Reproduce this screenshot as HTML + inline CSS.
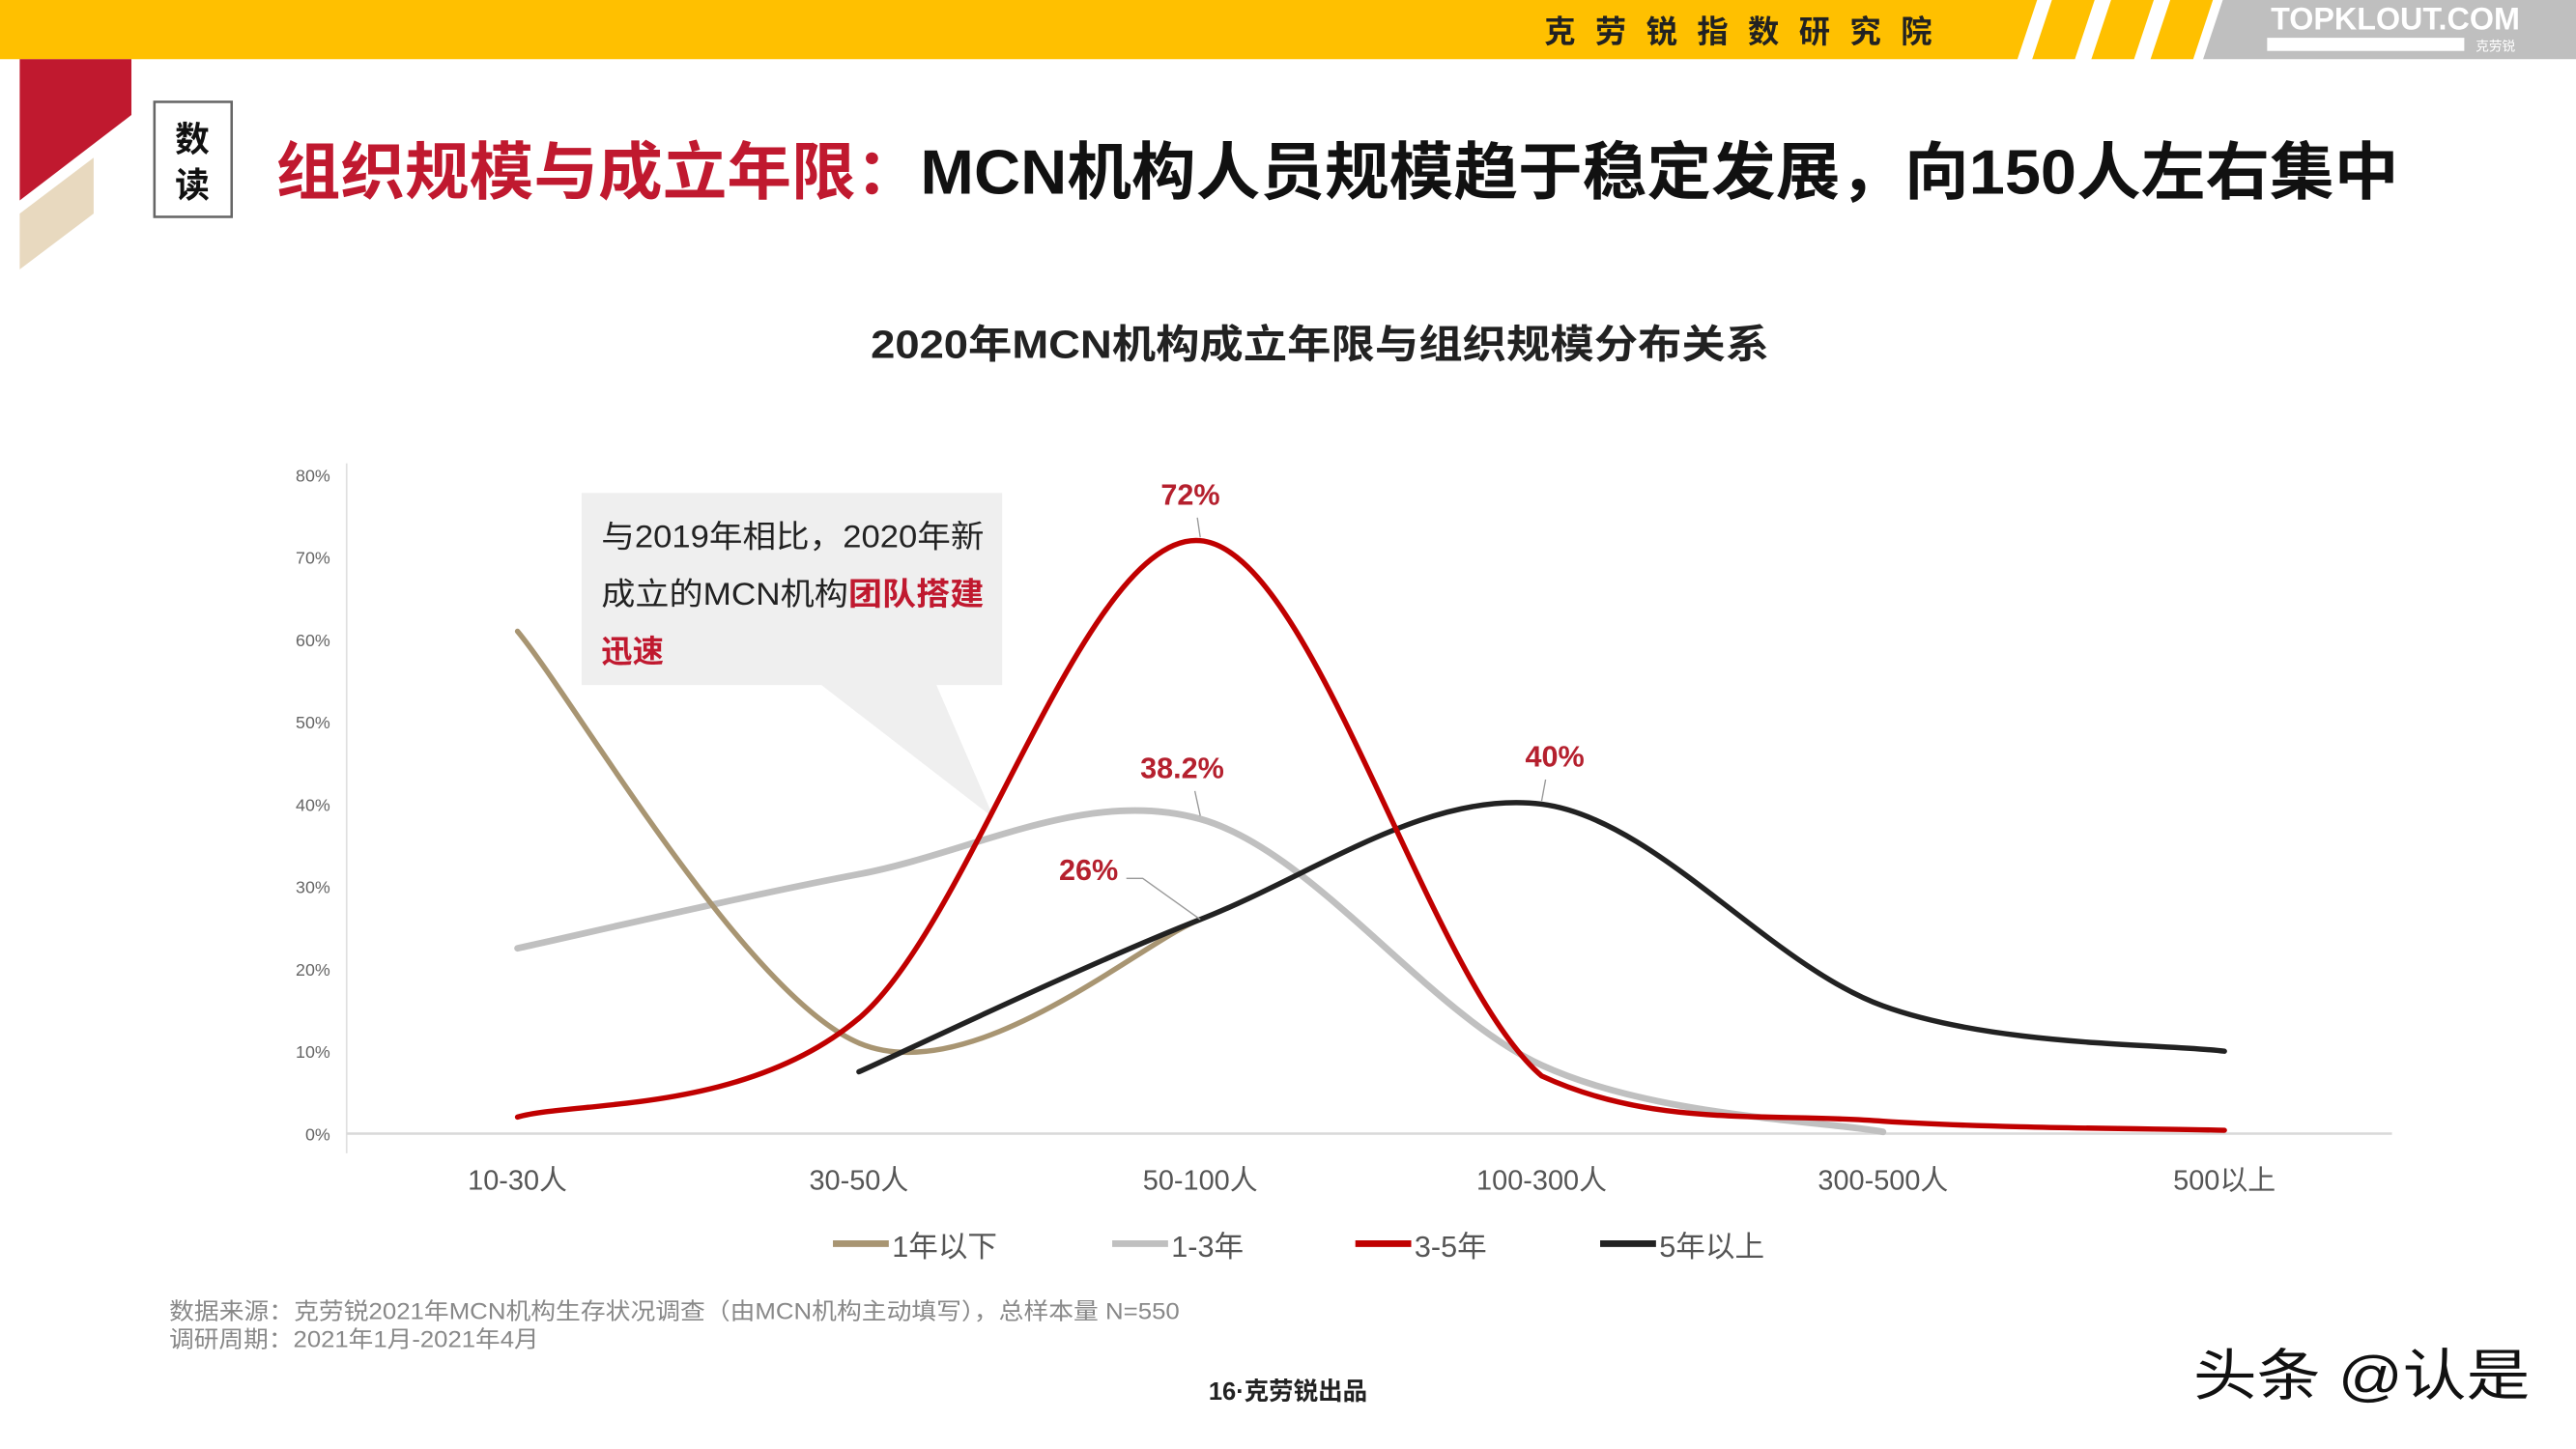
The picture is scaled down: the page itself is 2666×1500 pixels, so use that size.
<!DOCTYPE html>
<html><head><meta charset="utf-8">
<style>
html,body{margin:0;padding:0;background:#fff;}
svg{display:block;}
text{font-family:"Liberation Sans","Noto Sans CJK SC",sans-serif;}
</style></head>
<body>
<svg id="chart" width="2666" height="1500" viewBox="0 0 1568 882" preserveAspectRatio="none" xmlns="http://www.w3.org/2000/svg">
  <rect width="1568" height="882" fill="#fff"/>
  <g>
    <polygon points="0,0 1240,0 1228,36 0,36" fill="#ffc000"/>
    <polygon points="1249,0 1275,0 1263,36 1237,36" fill="#ffc000"/>
    <polygon points="1285,0 1311,0 1299,36 1273,36" fill="#ffc000"/>
    <polygon points="1321,0 1347,0 1335,36 1309,36" fill="#ffc000"/>
    <polygon points="1353,0 1568,0 1568,36 1341,36" fill="#bfbfbf"/>
    <text x="940" y="26" font-size="19" font-weight="bold" fill="#222" textLength="236" lengthAdjust="spacing">克劳锐指数研究院</text>
    <text x="1458" y="18" font-size="19" font-weight="bold" fill="#fff" text-anchor="middle">TOPKLOUT.COM</text>
    <rect x="1380" y="23" width="120" height="8" fill="#fff"/>
    <text x="1519" y="31" font-size="8" fill="#fff" text-anchor="middle">克劳锐</text>
  </g>
  <g>
    <polygon points="12,36 80,36 80,70 12,122" fill="#c0192f"/>
    <polygon points="12,130 57,96 57,130 12,164" fill="#e8d9bf"/>
  </g>
  <rect x="94" y="62" width="47" height="70" fill="#fff" stroke="#666" stroke-width="1.5"/>
  <text x="117" y="92" font-size="21" font-weight="bold" fill="#111" text-anchor="middle">数</text>
  <text x="117" y="120" font-size="21" font-weight="bold" fill="#111" text-anchor="middle">读</text>
  <text x="168" y="118" font-size="38" font-weight="bold" textLength="1292" lengthAdjust="spacingAndGlyphs"><tspan fill="#c0192f">组织规模与成立年限：</tspan><tspan fill="#111">MCN机构人员规模趋于稳定发展，向150人左右集中</tspan></text>
  <text x="530" y="218" font-size="24" font-weight="bold" fill="#222" textLength="547" lengthAdjust="spacingAndGlyphs">2020年MCN机构成立年限与组织规模分布关系</text>

  <g id="axes"></g>
  <g id="callout">
    <polygon points="354,300 610,300 610,417 570,417 605,498 500,417 354,417" fill="#efefef"/>
    <text x="366" y="333" font-size="19" fill="#222" textLength="233" lengthAdjust="spacingAndGlyphs">与2019年相比，2020年新</text>
    <text x="366" y="368" font-size="19" fill="#222" textLength="233" lengthAdjust="spacingAndGlyphs">成立的MCN机构<tspan fill="#c0192f" font-weight="bold">团队搭建</tspan></text>
    <text x="366" y="403" font-size="19" fill="#c0192f" font-weight="bold">迅速</text>
  </g>
  <g id="series"></g>
  <g id="labels"></g>
  <g id="legend"></g>

  <text x="103" y="803" font-size="14" fill="#888" textLength="615" lengthAdjust="spacingAndGlyphs">数据来源：克劳锐2021年MCN机构生存状况调查（由MCN机构主动填写），总样本量 N=550</text>
  <text x="103" y="820" font-size="14" fill="#888" textLength="225" lengthAdjust="spacingAndGlyphs">调研周期：2021年1月-2021年4月</text>
  <text x="784" y="852" font-size="15" font-weight="bold" fill="#222" text-anchor="middle">16·克劳锐出品</text>
  <text x="1335" y="849" font-size="34" fill="#111" textLength="205" lengthAdjust="spacingAndGlyphs">头条 @认是</text>
</svg>
<script>
const categories = ["10-30人","30-50人","50-100人","100-300人","300-500人","500以上"];
const yTicks = [0,10,20,30,40,50,60,70,80];
const seriesNames = ["1年以下","1-3年","3-5年","5年以上"];
const s1 = [61, 11, 26, null, null, null];
const s2 = [22.5, 31.5, 38.2, 8.3, 0.2, null];
const s3 = [2, 14, 72, 7, 1.5, 0.4];
const s4 = [null, 7.5, 26, 40, 15.5, 10];
const colors = ["#a89572","#c0c0c0","#c00000","#222222"];
const widths = [3.2,4,3.2,3.2];

const NS="http://www.w3.org/2000/svg";
function xs(i){return 315 + i*207.8;}
function ys(v){return 690 - v*5.0125;}
function mk(tag,attrs,parent){const e=document.createElementNS(NS,tag);for(const k in attrs)e.setAttribute(k,attrs[k]);parent.appendChild(e);return e;}

const axes=document.getElementById('axes');
const yAxis=mk('line',{x1:211,y1:282,x2:211,y2:702,stroke:'#e0e0e0','stroke-width':1},axes);


const xAxis=mk('line',{x1:211,y1:690,x2:1456,y2:690,stroke:'#d9d9d9','stroke-width':1.5},axes);


yTicks.forEach(t=>{
  const tx=mk('text',{x:201,y:ys(t)+4,'font-size':10.5,fill:'#666','text-anchor':'end'},axes);
  tx.textContent=t+'%';
  
  
});
categories.forEach((c,i)=>{
  const tx=mk('text',{x:xs(i),y:724,'font-size':17,fill:'#555','text-anchor':'middle'},axes);
  tx.textContent=c;
  
  
});

function smoothPath(vals){
  const pts=[];vals.forEach((v,i)=>{if(v!==null)pts.push([xs(i),ys(v)]);});
  const floor=ys(0.6);
  let d='M'+pts[0][0]+','+pts[0][1];
  for(let i=0;i<pts.length-1;i++){
    const p0=pts[i-1]||pts[i],p1=pts[i],p2=pts[i+1],p3=pts[i+2]||p2;
    const c1=[p1[0]+(p2[0]-p0[0])/6,Math.min(floor,p1[1]+(p2[1]-p0[1])/6)];
    const c2=[p2[0]-(p3[0]-p1[0])/6,Math.min(floor,p2[1]-(p3[1]-p1[1])/6)];
    d+=' C'+c1[0]+','+c1[1]+' '+c2[0]+','+c2[1]+' '+p2[0]+','+p2[1];
  }
  return d;
}
const sg=document.getElementById('series');
[s2,s1,s4,s3].forEach((s)=>{
  const idx=[s1,s2,s3,s4].indexOf(s);
  const p=mk('path',{d:smoothPath(s),fill:'none',stroke:colors[idx],'stroke-width':widths[idx],'stroke-linecap':'round'},sg);
  
  
});

const lg=document.getElementById('labels');
const labelDefs=[[s3,2,'72%',-6,-22],[s2,2,'38.2%',-11,-25],[s1,2,'26%',-68,-24],[s4,3,'40%',8,-23]];
labelDefs.forEach(([s,i,txt,dx,dy])=>{
  const x=xs(i),y=ys(s[i]);
  if(txt==='26%'){
    mk('polyline',{points:(x-45)+','+(y-25)+' '+(x-35)+','+(y-25)+' '+x+','+y,fill:'none',stroke:'#999','stroke-width':0.8},lg);
  } else {
    mk('line',{x1:x+dx*0.3,y1:y+dy+8,x2:x,y2:y-2,stroke:'#999','stroke-width':0.8},lg);
  }
  const t=mk('text',{x:x+dx,y:y+dy,'font-size':18,'font-weight':'bold',fill:'#b5202e','text-anchor':'middle'},lg);
  t.textContent=txt;
  
  
});

const leg=document.getElementById('legend');
const legX=[507,677,825,974];
seriesNames.forEach((n,i)=>{
  const g=mk('g',{},leg);
  
  
  mk('line',{x1:legX[i],y1:757,x2:legX[i]+34,y2:757,stroke:colors[i],'stroke-width':4},g);
  const t=mk('text',{x:legX[i]+36,y:765,'font-size':18,fill:'#555'},g);
  t.textContent=n;
});
</script>
</body></html>
